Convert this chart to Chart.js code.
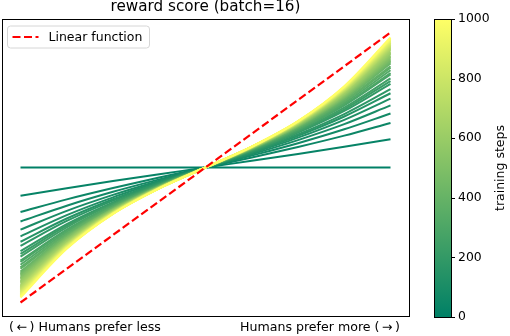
<!DOCTYPE html>
<html>
<head>
<meta charset="utf-8">
<script src="https://cdn.jsdelivr.net/npm/chart.js@4.4.0/dist/chart.umd.min.js"></script>
<style>
  html, body { margin: 0; padding: 0; background: #fff; }
</style>
</head>
<body>
<canvas id="c" width="510" height="336"></canvas>
<script>
// training steps of each curve (colour via the "summer" colormap)
const steps = [0, 25, 50, 75, 100, 125, 150, 175, 200, 225, 250, 275, 300, 325, 350, 375, 400,
  425, 450, 475, 500, 525, 550, 575, 600, 625, 650, 675, 700, 725, 750, 775, 800, 825, 850,
  875, 900, 925, 950, 975, 1000];

// x positions of the right half (curves are point-symmetric about the centre)
const uPos = [0.25, 0.5, 0.75, 1];

// reward score at uPos for each training step
const rightHalf = [
  [0, 0, 0, 0],
  [0.050, 0.100, 0.153, 0.21],
  [0.074, 0.152, 0.236, 0.33],
  [0.088, 0.180, 0.283, 0.40],
  [0.098, 0.203, 0.321, 0.46],
  [0.106, 0.221, 0.353, 0.51],
  [0.113, 0.235, 0.378, 0.55],
  [0.117, 0.245, 0.396, 0.58],
  [0.123, 0.258, 0.419, 0.62],
  [0.125, 0.264, 0.431, 0.64],
  [0.128, 0.270, 0.443, 0.66],
  [0.131, 0.279, 0.460, 0.69],
  [0.133, 0.282, 0.466, 0.70],
  [0.135, 0.288, 0.477, 0.72],
  [0.137, 0.293, 0.488, 0.74],
  [0.138, 0.296, 0.493, 0.75],
  [0.140, 0.301, 0.504, 0.77],
  [0.141, 0.304, 0.510, 0.78],
  [0.142, 0.306, 0.515, 0.79],
  [0.143, 0.309, 0.520, 0.80],
  [0.144, 0.311, 0.525, 0.81],
  [0.145, 0.314, 0.531, 0.82],
  [0.146, 0.316, 0.536, 0.83],
  [0.146, 0.318, 0.541, 0.84],
  [0.147, 0.321, 0.546, 0.85],
  [0.148, 0.323, 0.551, 0.86],
  [0.149, 0.325, 0.557, 0.87],
  [0.150, 0.327, 0.562, 0.88],
  [0.150, 0.329, 0.565, 0.887],
  [0.151, 0.330, 0.568, 0.894],
  [0.151, 0.332, 0.572, 0.901],
  [0.152, 0.333, 0.576, 0.908],
  [0.152, 0.335, 0.579, 0.915],
  [0.153, 0.336, 0.582, 0.922],
  [0.153, 0.337, 0.585, 0.928],
  [0.153, 0.339, 0.588, 0.934],
  [0.154, 0.340, 0.591, 0.940],
  [0.154, 0.341, 0.594, 0.946],
  [0.154, 0.342, 0.597, 0.952],
  [0.155, 0.343, 0.599, 0.957],
  [0.155, 0.344, 0.602, 0.963],
];

const linearX = [-1, 1];
const linearY = [-1, 1];
const cbTicks = [0, 200, 400, 600, 800, 1000];
const stepMax = 1000;
const leftLabel = '(\u2009\u2190\u2009) Humans prefer less';
const rightLabel = 'Humans prefer more (\u2009\u2192\u2009)';
const title = 'reward score (batch=16)';

const FONT = '"DejaVu Sans", sans-serif';

function summer(t, a) {
  return `rgba(${Math.round(255 * t)},${Math.round(127.5 + 127.5 * t)},102,${a == null ? 1 : a})`;
}

// full curve = mirrored left half + centre + right half
function curvePoints(row) {
  const pts = [];
  for (let i = uPos.length - 1; i >= 0; i--) pts.push({ x: -uPos[i], y: -row[i] });
  pts.push({ x: 0, y: 0 });
  uPos.forEach((u, i) => pts.push({ x: u, y: row[i] }));
  return pts;
}

const datasets = [{
  label: 'Linear function',
  data: linearX.map((x, i) => ({ x, y: linearY[i] })),
  borderColor: '#ff0000',
  borderWidth: 2.2,
  borderDash: [8, 3.5],
  pointRadius: 0,
}];
// later steps first so step 0 is drawn at the bottom
for (let k = steps.length - 1; k >= 0; k--) {
  datasets.push({
    label: 'step ' + steps[k],
    data: curvePoints(rightHalf[k]),
    borderColor: summer(steps[k] / stepMax),
    borderWidth: 2,
    pointRadius: 0,
    cubicInterpolationMode: 'monotone',
  });
}

const decor = {
  id: 'decor',
  afterDraw(chart) {
    const { ctx, chartArea: a } = chart;
    ctx.save();
    // axes frame
    ctx.strokeStyle = '#000';
    ctx.lineWidth = 1;
    ctx.strokeRect(a.left + 0.5, a.top + 0.5, a.right - a.left, a.bottom - a.top);

    // title
    ctx.fillStyle = '#000';
    ctx.font = '15.2px ' + FONT;
    ctx.textAlign = 'center';
    ctx.textBaseline = 'bottom';
    ctx.fillText(title, (a.left + a.right) / 2, a.top - 4);

    // end labels under the axes
    ctx.font = '12.6px ' + FONT;
    ctx.textBaseline = 'top';
    ctx.textAlign = 'left';
    ctx.fillText(leftLabel, a.left + 7, a.bottom + 5);
    ctx.textAlign = 'right';
    ctx.fillText(rightLabel, a.right - 9, a.bottom + 5);

    // legend
    const lx = a.left + 5.5, ly = a.top + 7, lw = 142, lh = 22;
    ctx.beginPath();
    ctx.roundRect(lx, ly, lw, lh, 3);
    ctx.fillStyle = 'rgba(255,255,255,0.8)';
    ctx.fill();
    ctx.strokeStyle = '#d6d6d6';
    ctx.stroke();
    ctx.beginPath();
    ctx.setLineDash([8, 3.5]);
    ctx.strokeStyle = '#ff0000';
    ctx.lineWidth = 2.2;
    ctx.moveTo(lx + 5, ly + lh / 2);
    ctx.lineTo(lx + 31, ly + lh / 2);
    ctx.stroke();
    ctx.setLineDash([]);
    ctx.fillStyle = '#000';
    ctx.font = '12.5px ' + FONT;
    ctx.textAlign = 'left';
    ctx.textBaseline = 'middle';
    ctx.fillText(datasets[0].label, lx + 41, ly + lh / 2 + 0.5);

    // colorbar
    const cx = 434, cw = 17, cTop = a.top, cBot = a.bottom + 1;
    const g = ctx.createLinearGradient(0, cBot, 0, cTop);
    g.addColorStop(0, summer(0));
    g.addColorStop(1, summer(1));
    ctx.fillStyle = g;
    ctx.fillRect(cx, cTop, cw, cBot - cTop);
    ctx.strokeStyle = '#000';
    ctx.lineWidth = 1;
    ctx.strokeRect(cx + 0.5, cTop + 0.5, cw, cBot - cTop);
    ctx.fillStyle = '#000';
    ctx.font = '12.4px ' + FONT;
    ctx.textAlign = 'left';
    ctx.textBaseline = 'middle';
    cbTicks.forEach(t => {
      const y = cBot - (t / stepMax) * (cBot - cTop);
      ctx.beginPath();
      ctx.moveTo(cx + cw, Math.round(y) + 0.5);
      ctx.lineTo(cx + cw + 4, Math.round(y) + 0.5);
      ctx.stroke();
      ctx.fillText(String(t), cx + cw + 7, y);
    });
    ctx.save();
    ctx.font = '12.5px ' + FONT;
    ctx.translate(501, (cTop + cBot) / 2);
    ctx.rotate(-Math.PI / 2);
    ctx.textAlign = 'center';
    ctx.fillText('training steps', 0, 0);
    ctx.restore();

    ctx.restore();
  },
};

new Chart(document.getElementById('c').getContext('2d'), {
  type: 'line',
  data: { datasets },
  options: {
    responsive: false,
    animation: false,
    layout: { padding: { left: 2, top: 19, right: 101, bottom: 20 } },
    plugins: { legend: { display: false }, tooltip: { enabled: false } },
    scales: {
      x: { type: 'linear', min: -1.1, max: 1.1, display: false },
      y: { min: -1.1, max: 1.1, display: false },
    },
  },
  plugins: [decor],
});
</script>
</body>
</html>
